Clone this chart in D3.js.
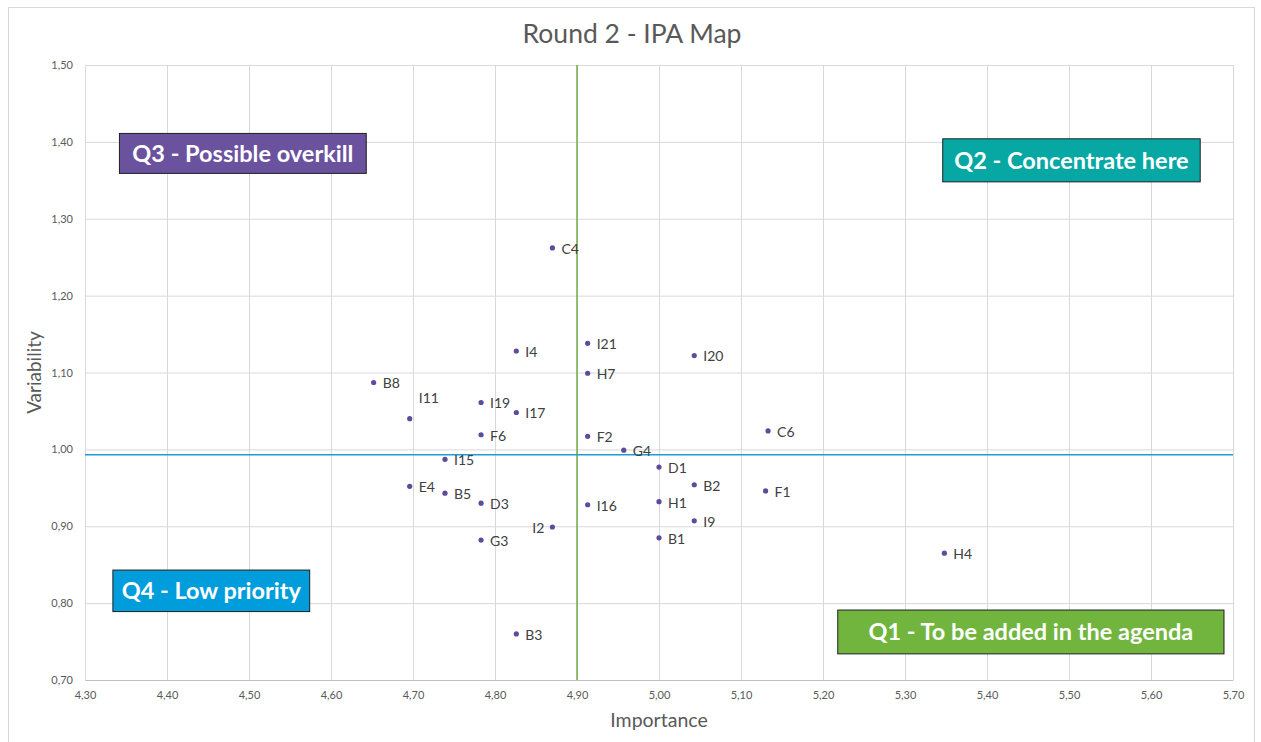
<!DOCTYPE html>
<html>
<head>
<meta charset="utf-8">
<script src="https://cdn.jsdelivr.net/npm/d3@7"></script>
<style>
  body { margin: 0; background: #fff; }
  text { font-family: Lato, "Open Sans", sans-serif; }
</style>
</head>
<body>
<div id="chart"></div>
<script>
// point codes and their values (importance / variability)
var codes = ["C4", "I4", "I21", "I20", "H7", "B8", "I11", "I19", "I17", "F6", "F2", "G4", "C6",
    "I15", "D1", "E4", "B2", "F1", "B5", "D3", "I16", "H1", "I9", "I2", "G3", "B1", "H4", "B3"];
var importance = [4.870, 4.826, 4.913, 5.043, 4.913, 4.652, 4.696, 4.783, 4.826, 4.783, 4.913, 4.957, 5.133,
    4.739, 5.000, 4.696, 5.043, 5.130, 4.739, 4.783, 4.913, 5.000, 5.043, 4.870, 4.783, 5.000, 5.348, 4.826];
var variability = [1.262, 1.128, 1.138, 1.122, 1.099, 1.087, 1.040, 1.061, 1.048, 1.019, 1.017, 0.999, 1.024,
    0.987, 0.977, 0.952, 0.954, 0.946, 0.943, 0.930, 0.928, 0.932, 0.907, 0.899, 0.882, 0.885, 0.865, 0.760];

// mean lines
var meanImportance = 4.90;
var meanVariability = 0.993;

// tick labels
var xTicks = [4.3, 4.4, 4.5, 4.6, 4.7, 4.8, 4.9, 5.0, 5.1, 5.2, 5.3, 5.4, 5.5, 5.6, 5.7];
var yTicks = [0.7, 0.8, 0.9, 1.0, 1.1, 1.2, 1.3, 1.4, 1.5];

// quadrant boxes
var quadLabels = ["Q3 - Possible overkill", "Q2 - Concentrate here", "Q4 - Low priority", "Q1 - To be added in the agenda"];
var quadColors = ["#6A529F", "#07A8A4", "#009DDC", "#71B53F"];

var svgWidth = 1261;
var svgHeight = 742;
var margin = { top: 65, right: 28, bottom: 62, left: 85 };
var width = svgWidth - margin.left - margin.right;
var height = svgHeight - margin.top - margin.bottom;

var svg = d3.select("#chart")
    .append("svg")
    .attr("width", svgWidth)
    .attr("height", svgHeight);

// outer chart border
svg.append("rect")
    .attr("x", 8.5).attr("y", 7.5)
    .attr("width", 1246).attr("height", 760)
    .attr("fill", "none")
    .attr("stroke", "#D9D9D9");

var chartGroup = svg.append("g")
    .attr("transform", `translate(${margin.left}, ${margin.top})`);

var xScale = d3.scaleLinear().domain([4.3, 5.7]).range([0, width]);
var yScale = d3.scaleLinear().domain([0.7, 1.5]).range([height, 0]);

var fmt = d => d3.format(".2f")(d).replace(".", ",");

// gridlines
chartGroup.append("g")
    .attr("transform", `translate(0, ${height})`)
    .call(d3.axisBottom(xScale).tickValues(xTicks).tickSize(-height).tickFormat(""))
    .call(g => g.select(".domain").remove())
    .call(g => g.selectAll("line").attr("stroke", "#D9D9D9"));

chartGroup.append("g")
    .call(d3.axisLeft(yScale).tickValues(yTicks).tickSize(-width).tickFormat(""))
    .call(g => g.select(".domain").remove())
    .call(g => g.selectAll("line").attr("stroke", "#D9D9D9"));

// axes (labels only)
chartGroup.append("g")
    .attr("transform", `translate(0, ${height})`)
    .call(d3.axisBottom(xScale).tickValues(xTicks).tickSize(0).tickPadding(11).tickFormat(fmt))
    .call(g => g.select(".domain").attr("stroke", "#BFBFBF"))
    .call(g => g.selectAll("text").attr("fill", "#595959").style("font-size", "11px"));

chartGroup.append("g")
    .call(d3.axisLeft(yScale).tickValues(yTicks).tickSize(0).tickPadding(12).tickFormat(fmt))
    .call(g => g.select(".domain").attr("stroke", "#D9D9D9"))
    .call(g => g.selectAll("text").attr("fill", "#595959").style("font-size", "11px"));

// mean lines
chartGroup.append("line")
    .attr("x1", xScale(meanImportance)).attr("x2", xScale(meanImportance))
    .attr("y1", 0).attr("y2", height)
    .attr("stroke", "#70AD47").attr("stroke-width", 1.5);

chartGroup.append("line")
    .attr("x1", 0).attr("x2", width)
    .attr("y1", yScale(meanVariability)).attr("y2", yScale(meanVariability))
    .attr("stroke", "#1E9BD7").attr("stroke-width", 1.5);

// points
var data = codes.map((c, i) => ({ code: c, x: importance[i], y: variability[i] }));

chartGroup.selectAll("circle")
    .data(data)
    .enter()
    .append("circle")
    .attr("cx", d => xScale(d.x))
    .attr("cy", d => yScale(d.y))
    .attr("r", 2.6)
    .attr("fill", "#5E4B9C");

chartGroup.selectAll(".ptLabel")
    .data(data)
    .enter()
    .append("text")
    .attr("class", "ptLabel")
    .attr("x", d => d.code === "I2" ? xScale(d.x) - 8 : xScale(d.x) + 9)
    .attr("y", d => d.code === "I11" ? yScale(d.y) - 21 : yScale(d.y) + 1)
    .attr("dy", "0.35em")
    .attr("text-anchor", d => d.code === "I2" ? "end" : "start")
    .attr("fill", "#404040")
    .style("font-size", "14px")
    .text(d => d.code);

// quadrant boxes (placed in data coords)
var quadPos = [
    { x0: 4.342, x1: 4.643, y0: 1.411, y1: 1.359 },
    { x0: 5.346, x1: 5.660, y0: 1.404, y1: 1.348 },
    { x0: 4.334, x1: 4.574, y0: 0.843, y1: 0.789 },
    { x0: 5.218, x1: 5.689, y0: 0.791, y1: 0.734 }
];

quadLabels.forEach(function (lbl, i) {
    var p = quadPos[i];
    var bx = xScale(p.x0), by = yScale(p.y0);
    var bw = xScale(p.x1) - bx, bh = yScale(p.y1) - by;
    chartGroup.append("rect")
        .attr("x", bx).attr("y", by)
        .attr("width", bw).attr("height", bh)
        .attr("fill", quadColors[i])
        .attr("stroke", "#1F1F1F").attr("stroke-width", 1);
    chartGroup.append("text")
        .attr("x", bx + bw / 2).attr("y", by + bh / 2)
        .attr("dy", "0.36em")
        .attr("text-anchor", "middle")
        .attr("fill", "#fff")
        .style("font-size", "23.5px")
        .style("font-weight", "bold")
        .text(lbl);
});

// title
svg.append("text")
    .attr("x", 632).attr("y", 43)
    .attr("text-anchor", "middle")
    .attr("fill", "#595959")
    .style("font-size", "26.5px")
    .text("Round 2 - IPA Map");

// axis titles
svg.append("text")
    .attr("x", margin.left + width / 2).attr("y", 727)
    .attr("text-anchor", "middle")
    .attr("fill", "#595959")
    .style("font-size", "19.5px")
    .text("Importance");

svg.append("text")
    .attr("transform", "rotate(-90)")
    .attr("x", -(margin.top + height / 2)).attr("y", 41)
    .attr("text-anchor", "middle")
    .attr("fill", "#595959")
    .style("font-size", "19px")
    .text("Variability");
</script>
</body>
</html>
